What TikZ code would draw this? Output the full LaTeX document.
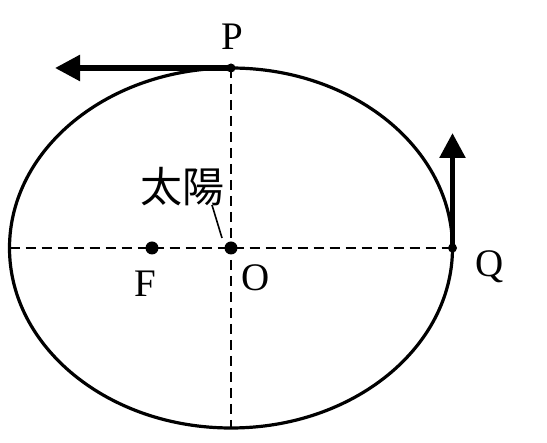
\documentclass[tikz,border=0pt]{standalone}
\usepackage{fontspec}
\setmainfont{Liberation Serif}
\newfontfamily\cjk{Noto Sans CJK TC}[FakeBold=0]
\usetikzlibrary{arrows.meta}
\tikzset{
  orbit/.style={line width=3.2pt},
  axis/.style={line width=2.2pt, dash pattern=on 10pt off 6pt},
  vel/.style={line width=5.5pt, -{Triangle[length=25pt,width=25pt]}},
  bigdot/.style={circle, fill, inner sep=0pt, minimum size=13pt},
  smalldot/.style={circle, fill, inner sep=0pt, minimum size=9pt},
  lbl/.style={font=\fontsize{39}{44}\selectfont, inner sep=0pt, anchor=base},
  cjklbl/.style={font=\cjk\fontsize{42}{46}\selectfont, inner sep=0pt},
}
\begin{document}
\begin{tikzpicture}[x=1pt,y=-1pt]
\useasboundingbox (0,0) rectangle (547,443);
\coordinate (C) at (231,248);
\coordinate (L) at (9.5,248);
\coordinate (R) at (452.5,248);
\coordinate (T) at (231,68);
\coordinate (B) at (231,428);
\coordinate (Pend) at (55,68);
\coordinate (Qend) at (452.5,133);
\coordinate (ptr) at (212,205);
\coordinate (ptrend) at (222,238);
% axes
\draw[axis] (L) -- (R);
\draw[axis] (T) -- (B);
% orbit
\draw[orbit] (C) ellipse [x radius=221.5pt, y radius=180pt];
% velocity arrows
\draw[vel] (T) -- (Pend);
\draw[vel] (R) -- (Qend);
% dots
\node[bigdot] (O) at (C) {};
\node[bigdot] (F) at (152,248) {};
\node[smalldot] (P) at (T) {};
\node[smalldot] (Q) at (R) {};
% labels
\node[lbl] (Plbl) at (232,50) {P};
\node[lbl] (Flbl) at (145,297) {F};
\node[lbl] (Olbl) at (256,291) {O};
\node[lbl] (Qlbl) at (490,277) {Q};
\node[cjklbl] (sun) at (182,187) {太陽};
\draw[line width=1.6pt] (ptr) -- (ptrend);
\end{tikzpicture}
\end{document}
